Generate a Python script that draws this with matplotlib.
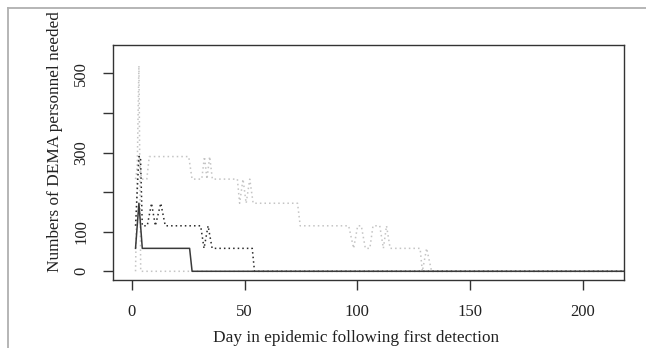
import matplotlib
matplotlib.use("Agg")
import matplotlib.pyplot as plt
from matplotlib.lines import Line2D

# scenario curves (day, personnel)
solid_days = [1.6, 3.1, 4.6, 25.6, 26.7, 220]
solid_vals = [58, 172, 58, 58, 0, 0]

dark_days = [1.6, 3.1, 3.8, 4.6, 6.8, 8.7, 10.4, 12.8, 14.8, 30.5, 32.0, 33.8, 35.6, 53.4, 54.4, 220]
dark_vals = [115, 290, 290, 115, 115, 172, 115, 172, 115, 115, 58, 115, 58, 58, 0, 0]

grey_a_days = [1.6, 3.1, 3.9, 220]
grey_a_vals = [0, 520, 0, 0]

grey_b_days = [1.6, 3.1, 4.3, 6.6, 7.7, 25.2, 26.7, 31.0, 32.2, 33.3, 34.5, 35.7, 46.8, 47.8,
               49.3, 50.7, 52.3, 53.8, 73.5, 74.7, 96.2, 98.4, 100.2, 101.8, 103.6, 105.6,
               107.0, 110.0, 111.6, 113.0, 114.6, 127.9, 128.9, 130.8, 133.0, 220]
grey_b_vals = [233, 290, 233, 233, 290, 290, 233, 233, 290, 233, 290, 233, 233, 172,
               233, 172, 233, 172, 172, 115, 115, 58, 115, 115, 58, 58,
               115, 115, 58, 115, 58, 58, 0, 58, 0, 0]

xticks = [0, 50, 100, 150, 200]
yticks = [0, 100, 200, 300, 400, 500]
ytick_labels = ['0', '100', '', '300', '', '500']

plt.rcParams['font.family'] = ['Liberation Serif', 'DejaVu Serif']
W, H = 646, 348
fig = plt.figure(figsize=(W / 100, H / 100), dpi=100)
ax = fig.add_axes([113 / W, 1 - 280 / H, (624 - 113) / W, (280 - 45) / H])

ax.plot(grey_a_days, grey_a_vals, color='#c4c4c4', lw=1.1, ls=(0, (1, 2)))
ax.plot(grey_b_days, grey_b_vals, color='#c4c4c4', lw=1.1, ls=(0, (1, 2)))
ax.plot(dark_days, dark_vals, color='#2a2a2a', lw=1.1, ls=(0, (1, 2)))
ax.plot(solid_days, solid_vals, color='#3a3a3a', lw=1.1)

ax.set_xlim(-8.4, 218.4)
ax.set_ylim(-22, 572)
ax.set_xticks(xticks)
ax.set_yticks(yticks)
ax.set_yticklabels(ytick_labels, rotation=90, va='center')
for s in ax.spines.values():
    s.set_color('#333333')
    s.set_linewidth(1.0)
ax.tick_params(axis='both', direction='out', length=7, width=1.0, color='#333333',
               labelsize=12, labelcolor='#222222')
ax.tick_params(axis='x', pad=10)
ax.tick_params(axis='y', pad=10)

fig.text(356 / W, 1 - 338 / H, 'Day in epidemic following first detection',
         ha='center', va='center', fontsize=12.4, color='#222222')
fig.text(55 / W, 1 - 142 / H, 'Numbers of DEMA personnel needed',
         ha='center', va='center', rotation=90, fontsize=12.4, color='#222222')

# light grey frame around the figure
fig.add_artist(Line2D([8 / W, 1], [1 - 8 / H, 1 - 8 / H], color='#b0b0b0', lw=1.3))
fig.add_artist(Line2D([8 / W, 8 / W], [0, 1 - 8 / H], color='#b0b0b0', lw=1.3))

fig.savefig('out.png', dpi=100)
